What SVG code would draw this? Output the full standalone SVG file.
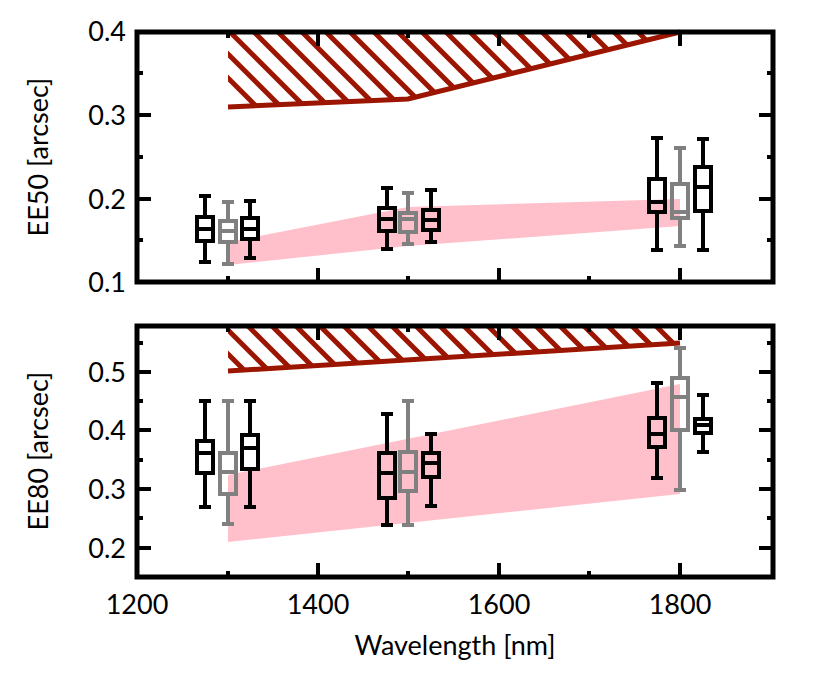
<svg xmlns="http://www.w3.org/2000/svg" width="821" height="684" viewBox="0 0 821 684">
<defs>
<style>
.fr{fill:none;stroke:#000;stroke-width:5}
.tk{stroke:#000;stroke-width:4}
.hz{stroke:#9b1500;stroke-width:5}
.bd{fill:none;stroke:#9b1500;stroke-width:5}
.pk{fill:#ffc0cb}
.bk{fill:none;stroke:#000;stroke-width:4}
.gy{fill:none;stroke:#808080;stroke-width:4}
text{font-family:Lato,"Open Sans",sans-serif;font-size:27px;fill:#000}
.yl{text-anchor:end}
.xl{text-anchor:middle}
</style>
<clipPath id="c1"><polygon points="228,32 680,32 408,99 228,107"/></clipPath>
<clipPath id="c2"><polygon points="228,326 680,326 680,343 228,371"/></clipPath>
</defs>
<rect width="821" height="684" fill="#fff"/>
<g id="top-panel">
<polygon class="pk" points="228,242 408,207 680,199 680,226 408,246 228,265"/>
<g clip-path="url(#c1)">
<path class="hz" d="M150,0 l150,150 M174,0 l150,150 M198,0 l150,150 M222,0 l150,150 M246,0 l150,150 M270,0 l150,150 M294,0 l150,150 M318,0 l150,150 M342,0 l150,150 M366,0 l150,150 M390,0 l150,150 M414,0 l150,150 M438,0 l150,150 M462,0 l150,150 M486,0 l150,150 M510,0 l150,150 M534,0 l150,150 M558,0 l150,150 M582,0 l150,150 M606,0 l150,150 M630,0 l150,150 M654,0 l150,150"/>
</g>
<polyline class="bd" points="228,107 408,99 680,32"/>
<g class="bk"><path d="M205,196V217M205,241V262M199,196h12M199,262h12M197,229h16"/><rect x="197" y="217" width="16" height="24"/></g>
<g class="gy"><path d="M228,202V221M228,242V264M222,202h12M222,264h12M220,231h16"/><rect x="220" y="221" width="16" height="21"/></g>
<g class="bk"><path d="M250,201V218M250,239V258M244,201h12M244,258h12M242,229h16"/><rect x="242" y="218" width="16" height="21"/></g>
<g class="bk"><path d="M387,188V208M387,231V249M381,188h12M381,249h12M379,219h16"/><rect x="379" y="208" width="16" height="23"/></g>
<g class="gy"><path d="M408,193V213M408,232V244M402,193h12M402,244h12M400,219h16"/><rect x="400" y="213" width="16" height="19"/></g>
<g class="bk"><path d="M431,190V210M431,230V242M425,190h12M425,242h12M423,220h16"/><rect x="423" y="210" width="16" height="20"/></g>
<g class="bk"><path d="M657,138V179M657,212V250M651,138h12M651,250h12M649,202h16"/><rect x="649" y="179" width="16" height="33"/></g>
<g class="gy"><path d="M680,148V184M680,218V246M674,148h12M674,246h12M672,212h16"/><rect x="672" y="184" width="16" height="34"/></g>
<g class="bk"><path d="M703,139V167M703,211V250M697,139h12M697,250h12M695,187h16"/><rect x="695" y="167" width="16" height="44"/></g>
<path class="tk" d="M318,282v-14M499,282v-14M680,282v-14M228,282v-6M408,282v-6M589,282v-6M318,32v14M499,32v14M680,32v14M228,32v6M408,32v6M589,32v6M137,115h14M137,199h14M137,73h6M137,157h6M137,240h6M773,115h-14M773,199h-14M773,73h-6M773,157h-6M773,240h-6"/>
<rect class="fr" x="137" y="32" width="636" height="250"/>
<text class="yl" x="126" y="41">0.4</text>
<text class="yl" x="126" y="125">0.3</text>
<text class="yl" x="126" y="209">0.2</text>
<text class="yl" x="126" y="292">0.1</text>
<text class="xl" transform="translate(48,157) rotate(-90)">EE50 [arcsec]</text>
</g>
<g id="bottom-panel">
<polygon class="pk" points="228,475 680,384 680,494 228,542"/>
<g clip-path="url(#c2)">
<path class="hz" d="M150,300 l100,100 M174,300 l100,100 M198,300 l100,100 M222,300 l100,100 M246,300 l100,100 M270,300 l100,100 M294,300 l100,100 M318,300 l100,100 M342,300 l100,100 M366,300 l100,100 M390,300 l100,100 M414,300 l100,100 M438,300 l100,100 M462,300 l100,100 M486,300 l100,100 M510,300 l100,100 M534,300 l100,100 M558,300 l100,100 M582,300 l100,100 M606,300 l100,100 M630,300 l100,100 M654,300 l100,100"/>
</g>
<polyline class="bd" points="228,371 680,343"/>
<g class="bk"><path d="M205,401V441M205,473V507M199,401h12M199,507h12M197,453h16"/><rect x="197" y="441" width="16" height="32"/></g>
<g class="gy"><path d="M228,401V453M228,494V524M222,401h12M222,524h12M220,472h16"/><rect x="220" y="453" width="16" height="41"/></g>
<g class="bk"><path d="M250,401V435M250,469V507M244,401h12M244,507h12M242,448h16"/><rect x="242" y="435" width="16" height="34"/></g>
<g class="bk"><path d="M387,414V453M387,498V525M381,414h12M381,525h12M379,473h16"/><rect x="379" y="453" width="16" height="45"/></g>
<g class="gy"><path d="M408,401V452M408,491V525M402,401h12M402,525h12M400,472h16"/><rect x="400" y="452" width="16" height="39"/></g>
<g class="bk"><path d="M431,434V453M431,477V506M425,434h12M425,506h12M423,463h16"/><rect x="423" y="453" width="16" height="24"/></g>
<g class="bk"><path d="M657,383V418M657,447V478M651,383h12M651,478h12M649,434h16"/><rect x="649" y="418" width="16" height="29"/></g>
<g class="gy"><path d="M680,348V378M680,430V490M674,348h12M674,490h12M672,397h16"/><rect x="672" y="378" width="16" height="52"/></g>
<g class="bk"><path d="M703,395V419M703,433V452M697,395h12M697,452h12M695,425h16"/><rect x="695" y="419" width="16" height="14"/></g>
<path class="tk" d="M318,577v-14M499,577v-14M680,577v-14M228,577v-6M408,577v-6M589,577v-6M318,326v14M499,326v14M680,326v14M228,326v6M408,326v6M589,326v6M137,372h14M137,430h14M137,489h14M137,548h14M137,343h6M137,401h6M137,460h6M137,518h6M773,372h-14M773,430h-14M773,489h-14M773,548h-14M773,343h-6M773,401h-6M773,460h-6M773,518h-6"/>
<rect class="fr" x="137" y="326" width="636" height="251"/>
<text class="yl" x="126" y="382">0.5</text>
<text class="yl" x="126" y="440">0.4</text>
<text class="yl" x="126" y="499">0.3</text>
<text class="yl" x="126" y="558">0.2</text>
<text class="xl" transform="translate(48,451) rotate(-90)">EE80 [arcsec]</text>
<text class="xl" x="137" y="614">1200</text>
<text class="xl" x="318" y="614">1400</text>
<text class="xl" x="499" y="614">1600</text>
<text class="xl" x="680" y="614">1800</text>
<text class="xl" x="455" y="655">Wavelength [nm]</text>
</g>
</svg>
